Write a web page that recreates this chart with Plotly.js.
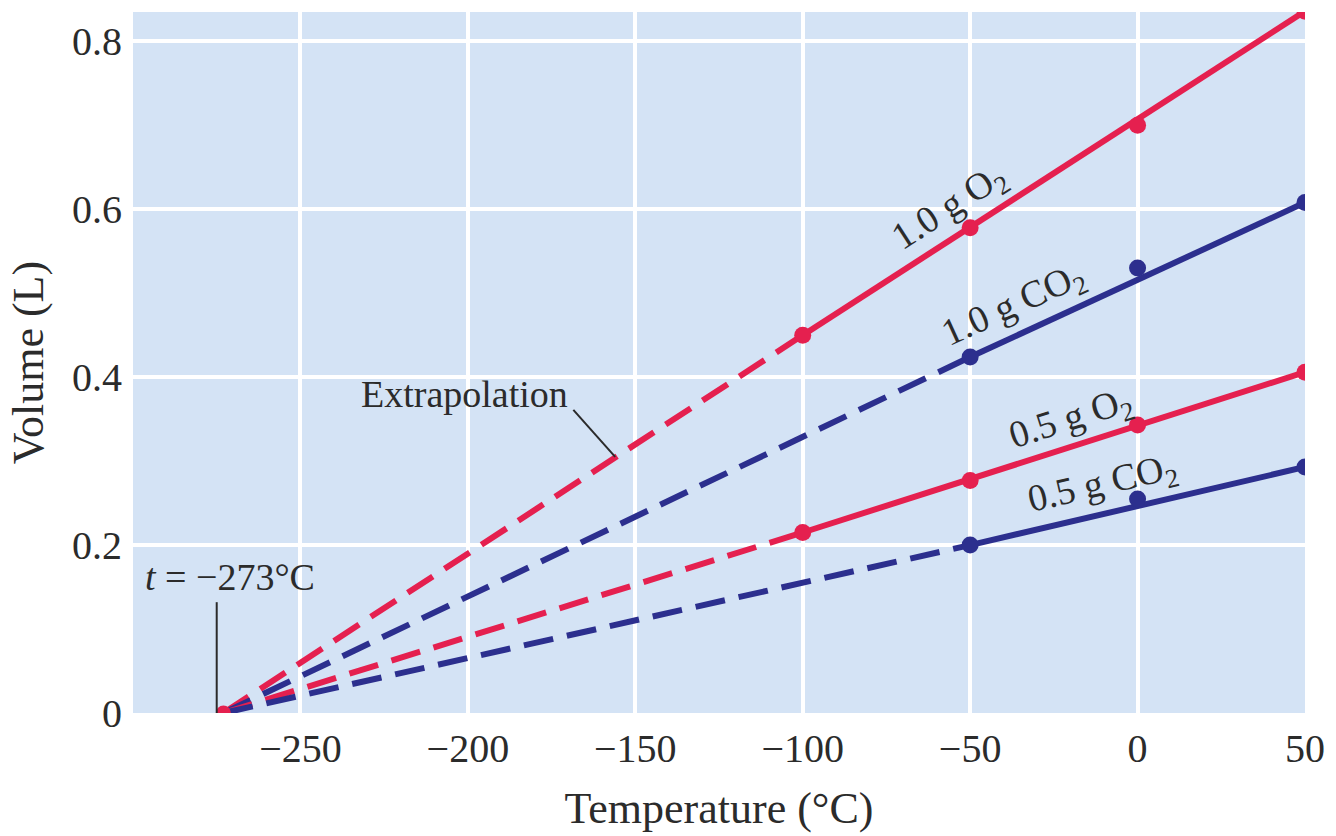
<!DOCTYPE html>
<html>
<head>
<meta charset="utf-8">
<script src="https://cdn.plot.ly/plotly-3.0.1.min.js"></script>
<style>html,body{margin:0;padding:0;background:#fff;}#chart{width:1336px;height:836px;}</style>
</head>
<body>
<div id="chart"></div>
<script>
// Data
var temps = [-100, -50, 0, 50];
var o2_10 = [0.450, 0.578, 0.700, 0.836];
var co2_10 = [null, 0.424, 0.530, 0.608];
var o2_05 = [0.215, 0.277, 0.343, 0.406];
var co2_05 = [null, 0.200, 0.255, 0.293];
var absZero = -273;
var xTicks = [-250, -200, -150, -100, -50, 0, 50];
var xTickText = ['\u2212250', '\u2212200', '\u2212150', '\u2212100', '\u221250', '0', '50'];
var yTicks = [0, 0.2, 0.4, 0.6, 0.8];
var yTickText = ['0', '0.2', '0.4', '0.6', '0.8'];

var RED = '#e5204f';
var BLUE = '#2c2f8e';
var TXT = '#2b2b2b';
var FONT = 'Liberation Serif, Times New Roman, serif';

var series = [
  {name: '1.0 g O2', y: o2_10, color: RED},
  {name: '1.0 g CO2', y: co2_10, color: BLUE},
  {name: '0.5 g O2', y: o2_05, color: RED},
  {name: '0.5 g CO2', y: co2_05, color: BLUE}
];

var traces = [];
series.forEach(function (s) {
  var xs = [], ys = [];
  for (var i = 0; i < temps.length; i++) {
    if (s.y[i] !== null) { xs.push(temps[i]); ys.push(s.y[i]); }
  }
  traces.push({x: [absZero, xs[0]], y: [0, ys[0]], mode: 'lines', type: 'scatter',
    line: {color: s.color, width: 6, dash: '30px,14px'}, hoverinfo: 'skip', showlegend: false});
  traces.push({x: [xs[0], xs[xs.length - 1]], y: [ys[0], ys[ys.length - 1]], mode: 'lines', type: 'scatter',
    line: {color: s.color, width: 6}, hoverinfo: 'skip', showlegend: false});
  traces.push({x: xs, y: ys, mode: 'markers', type: 'scatter', name: s.name,
    marker: {color: s.color, size: 17}, showlegend: false});
});
traces.push({x: [absZero], y: [0], mode: 'markers', type: 'scatter',
  marker: {color: RED, size: 15}, showlegend: false, hoverinfo: 'skip'});

var layout = {
  width: 1336, height: 836,
  margin: {l: 133, r: 31, t: 12, b: 123},
  paper_bgcolor: '#ffffff',
  plot_bgcolor: '#d4e3f5',
  font: {family: FONT, color: TXT},
  showlegend: false,
  xaxis: {
    range: [-300, 50], tickvals: xTicks, ticktext: xTickText,
    showgrid: true, gridcolor: '#ffffff', gridwidth: 4, zeroline: false,
    ticks: 'outside', ticklen: 0, tickcolor: 'rgba(0,0,0,0)',
    tickfont: {family: FONT, size: 40, color: TXT},
    title: {text: 'Temperature (\u00b0C)', font: {family: FONT, size: 44, color: TXT}, standoff: 22},
    showline: false, fixedrange: true
  },
  yaxis: {
    range: [0, 0.835], tickvals: yTicks, ticktext: yTickText,
    showgrid: true, gridcolor: '#ffffff', gridwidth: 4, zeroline: false,
    ticks: 'outside', ticklen: 2, tickcolor: 'rgba(0,0,0,0)',
    tickfont: {family: FONT, size: 40, color: TXT},
    title: {text: 'Volume (L)', font: {family: FONT, size: 44, color: TXT}, standoff: 14},
    showline: false, fixedrange: true
  },
  shapes: [
    {type: 'line', xref: 'x', yref: 'y', x0: -168.5, y0: 0.361, x1: -156, y1: 0.305,
      line: {color: TXT, width: 2}},
    {type: 'line', xref: 'x', yref: 'y', x0: -275, y0: 0.132, x1: -275, y1: 0,
      line: {color: TXT, width: 2}}
  ],
  annotations: [
    {x: -201, y: 0.38, xref: 'x', yref: 'y', text: 'Extrapolation', showarrow: false,
      font: {family: FONT, size: 38, color: TXT}},
    {x: -297, y: 0.162, xref: 'x', yref: 'y', xanchor: 'left', text: '<i>t</i> = \u2212273\u00b0C', showarrow: false,
      font: {family: FONT, size: 38, color: TXT}},
    {x: -56, y: 0.601, xref: 'x', yref: 'y', text: '1.0 g O<sub>2</sub>', showarrow: false, textangle: -33,
      font: {family: FONT, size: 38, color: TXT}},
    {x: -37, y: 0.485, xref: 'x', yref: 'y', text: '1.0 g CO<sub>2</sub>', showarrow: false, textangle: -24.5,
      font: {family: FONT, size: 38, color: TXT}},
    {x: -20, y: 0.349, xref: 'x', yref: 'y', text: '0.5 g O<sub>2</sub>', showarrow: false, textangle: -17.6,
      font: {family: FONT, size: 38, color: TXT}},
    {x: -10.3, y: 0.271, xref: 'x', yref: 'y', text: '0.5 g CO<sub>2</sub>', showarrow: false, textangle: -13.1,
      font: {family: FONT, size: 38, color: TXT}}
  ]
};

Plotly.newPlot('chart', traces, layout, {displayModeBar: false, staticPlot: true});
</script>
</body>
</html>
